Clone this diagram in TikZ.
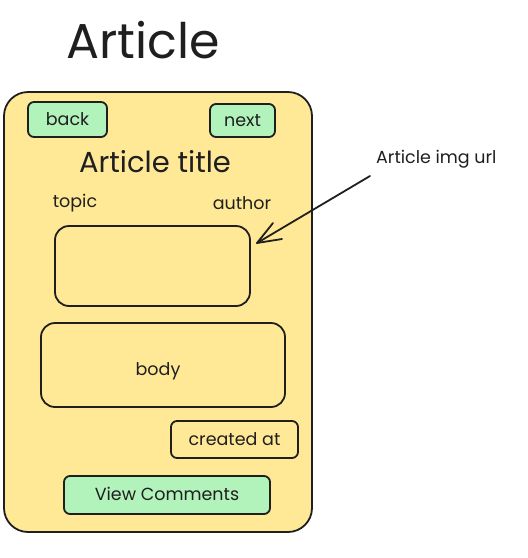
\documentclass[tikz,border=0pt]{standalone}
\usepackage{fontspec}
\setmainfont{Poppins}
\begin{document}
\begin{tikzpicture}[x=1pt,y=-1pt,
  ink/.style={draw=black!88, line width=1.8pt},
  card/.style={ink, fill=cardyellow, rounded corners=24pt},
  btn/.style={ink, fill=btngreen, rounded corners=6pt},
  panel/.style={ink, rounded corners=14pt},
  lbl/.style={text=black!88, inner sep=0pt, font=\fontsize{17.5}{20}\selectfont}
]
\definecolor{cardyellow}{HTML}{FFE996}
\definecolor{btngreen}{HTML}{B2F2BB}
\useasboundingbox (0,0) rectangle (528,558);

% page heading
\node[lbl, font=\fontsize{49}{56}\selectfont] (heading) at (143,40) {Article};

% the article card
\draw[card] (4,92) rectangle (312,532);

% navigation buttons
\draw[btn] (28,102) rectangle (107,137);
\node[lbl] (back) at (67.5,119) {back};
\draw[btn] (210,104) rectangle (275,137);
\node[lbl] (next) at (242.5,121) {next};

% title and meta
\node[lbl, font=\fontsize{29}{34}\selectfont] (title) at (155,162) {Article title};
\node[lbl] (topic) at (75,203) {topic};
\node[lbl] (author) at (242,203) {author};

% image placeholder
\draw[panel] (55,226) rectangle (250,306);
\coordinate (imgR) at (257,243);
\coordinate (tail) at (370,176);

% body
\draw[panel] (41,323) rectangle (285,407);
\node[lbl] (body) at (158,371) {body};

% created at
\draw[ink, rounded corners=6pt] (171,421) rectangle (298,458);
\node[lbl] (created) at (234.5,439) {created at};

% comments button
\draw[btn] (64,476) rectangle (270,514);
\node[lbl] (comments) at (167,494) {View Comments};

% annotation
\node[lbl, anchor=west] (imgurl) at (376,159) {Article img url};
\draw[ink, line cap=round, line join=round] (tail) -- (imgR);
\draw[ink, line cap=round, line join=round] (273,223) -- (imgR) -- (282,239);
\end{tikzpicture}
\end{document}
